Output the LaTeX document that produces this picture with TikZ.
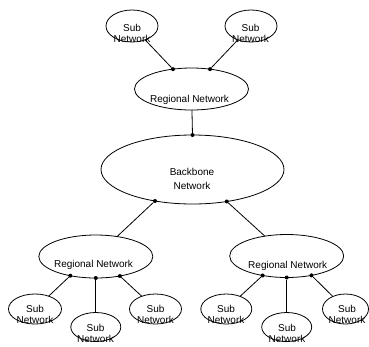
\documentclass[tikz,border=0pt]{standalone}
\usepackage{fontspec}
\setmainfont{Liberation Sans}
\usetikzlibrary{shapes.geometric}

\begin{document}
\begin{tikzpicture}[x=1pt,y=-1pt,
  net/.style={ellipse,draw,line width=0.8pt,inner sep=0pt,outer sep=0pt},
  subnet/.style={net,minimum width=52pt,minimum height=31pt},
  regnet/.style={net,minimum width=114pt,minimum height=43pt},
  lbl/.style={inner sep=0pt,align=center,font=\fontsize{10}{10.5}\selectfont},
  tap/.style={circle,fill=black,inner sep=0pt,minimum size=4pt},
  link/.style={line width=0.8pt}]
\useasboundingbox (0,0) rectangle (369,346);

% backbone
\node[net,minimum width=183pt,minimum height=69pt] (bb) at (192.5,169.5) {};
\node[lbl,font=\fontsize{10}{14}\selectfont] (bbtxt) at (192,179.4) {Backbone\\Network};

% upper regional network and its sub networks
\node[regnet,minimum height=42pt] (regT) at (191.5,89) {};
\node[lbl,anchor=base] (regTtxt) at (189.5,102) {Regional Network};
\node[subnet,minimum height=32pt] (subTL) at (132,26) {};
\node[lbl] (subTLtxt) at (132,33.2) {Sub\\Network};
\node[subnet,minimum height=32pt] (subTR) at (251,26) {};
\node[lbl] (subTRtxt) at (250.5,33.2) {Sub\\Network};

% lower left regional network and its sub networks
\node[regnet] (regL) at (95.8,256.5) {};
\node[lbl,anchor=base] (regLtxt) at (93.5,267.5) {Regional Network};
\node[subnet,minimum width=53pt,minimum height=30pt] (sL1) at (35,309) {};
\node[lbl] (sL1txt) at (35,314.5) {Sub\\Network};
\node[subnet,minimum width=50pt,minimum height=29pt] (sL2) at (95.8,327) {};
\node[lbl] (sL2txt) at (95.5,333.5) {Sub\\Network};
\node[subnet,minimum height=30pt] (sL3) at (155.5,309) {};
\node[lbl] (sL3txt) at (155.5,314.5) {Sub\\Network};

% lower right regional network and its sub networks
\node[regnet] (regR) at (286.7,256) {};
\node[lbl,anchor=base] (regRtxt) at (287.7,268) {Regional Network};
\node[subnet,minimum width=51pt,minimum height=30pt] (sR1) at (226.3,309) {};
\node[lbl] (sR1txt) at (226,314.5) {Sub\\Network};
\node[subnet,minimum width=50pt,minimum height=29pt] (sR2) at (286.7,327) {};
\node[lbl] (sR2txt) at (287,333.5) {Sub\\Network};
\node[subnet,minimum width=46pt,minimum height=30pt] (sR3) at (345.5,309) {};
\node[lbl] (sR3txt) at (347,314.5) {Sub\\Network};

% attachment points
\node[tap] (tT1) at (regT.133) {};
\node[tap] (tT2) at (regT.47) {};
\node[tap] (tB0) at (bb.90) {};
\node[tap] (tB1) at (bb.220.8) {};
\node[tap] (tB2) at (bb.317.6) {};
\node[tap] (tL1) at (regL.217.5) {};
\node[tap] (tL2) at (regL.270) {};
\node[tap] (tL3) at (regL.321.4) {};
\node[tap] (tR1) at (regR.219) {};
\node[tap] (tR2) at (regR.270) {};
\node[tap] (tR3) at (regR.322.7) {};

% links
\draw[link] (tT1) -- (subTL);
\draw[link] (tT2) -- (subTR);
\draw[link] (regT) -- (tB0);
\draw[link] (tB1) -- (regL);
\draw[link] (tB2) -- (regR);
\draw[link] (tL1) -- (sL1);
\draw[link] (tL2) -- (sL2);
\draw[link] (tL3) -- (sL3);
\draw[link] (tR1) -- (sR1);
\draw[link] (tR2) -- (sR2);
\draw[link] (tR3) -- (sR3);
\end{tikzpicture}
\end{document}
